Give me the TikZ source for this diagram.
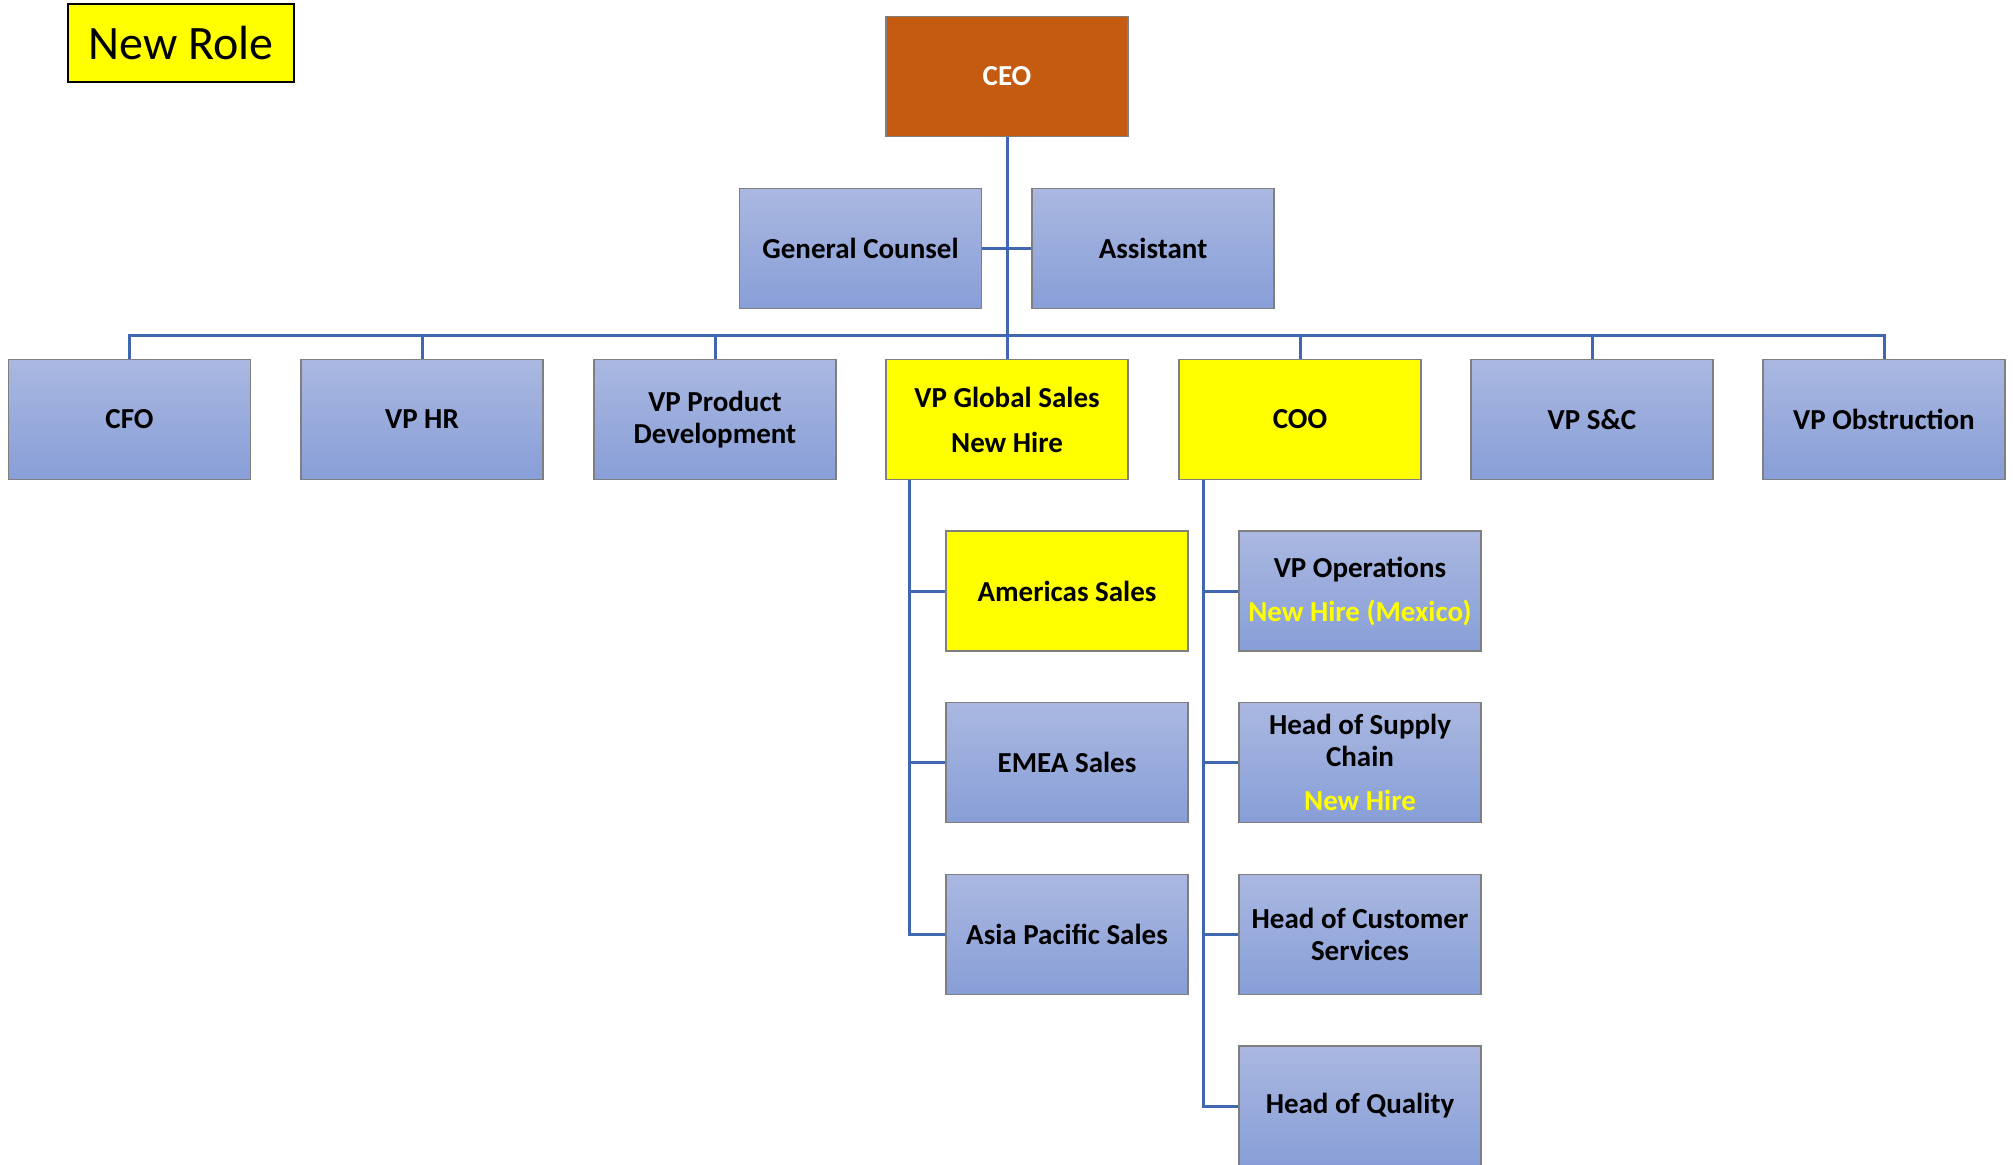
\documentclass[tikz,border=0pt]{standalone}
\usepackage{fontspec}
\setmainfont{Carlito}
\usepackage{xcolor}
\usetikzlibrary{positioning}
\definecolor{lnkx}{HTML}{4167B1}
\definecolor{ceox}{HTML}{C55A11}
\definecolor{bluetop}{HTML}{AAB8E1}
\definecolor{bluebot}{HTML}{889ED7}
\definecolor{edgex}{HTML}{7F7F7F}
\definecolor{hirex}{HTML}{FFFF00}
\tikzset{
  card/.style={draw=edgex,line width=0.6pt,minimum width=121pt,minimum height=60pt,align=center,inner sep=2pt,font=\bfseries\fontsize{14.5}{16}\selectfont},
  box/.style={card,top color=bluetop,bottom color=bluebot},
  newbox/.style={card,fill=hirex},
  ceobox/.style={card,fill=ceox,text=white},
  keybox/.style={draw=black,line width=1.4pt,fill=hirex,minimum width=113pt,minimum height=39pt,font=\fontsize{24}{28}\selectfont},
  lnk/.style={draw=lnkx,line width=1.5pt}
}
\begin{document}
\begin{tikzpicture}[x=0.5pt,y=-0.5pt]
\useasboundingbox (0,0) rectangle (2013,1164);
\fill[white] (0,0) rectangle (2013,1164);
\clip (0,0) rectangle (2013,1164);
% legend
\node[keybox] (key) at (181,43) {New Role};
% top
\node[ceobox] (ceo) at (1007,76.5) {CEO};
\node[box] (gc) at (860.5,248.5) {General Counsel};
\node[box] (asst) at (1153,248.5) {Assistant};
\coordinate (bus) at (1007,335);
% direct reports
\node[box] (cfo) at (129.5,419.5) {CFO};
\node[box] (vphr) at (422,419.5) {VP HR};
\node[box] (vppd) at (715,419.5) {VP Product\\Development};
\node[newbox] (vpgs) at (1007,419.5) {VP Global Sales\\[6.5pt]New Hire};
\node[newbox] (coo) at (1300,419.5) {COO};
\node[box] (vpsc) at (1592,419.5) {VP S\&C};
\node[box] (vpob) at (1884,419.5) {VP Obstruction};
% sales
\node[newbox] (amer) at (1067,591) {Americas Sales};
\node[box] (emea) at (1067,762.5) {EMEA Sales};
\node[box] (apac) at (1067,934.5) {Asia Pacific Sales};
% operations
\node[box] (vpop) at (1360,591) {VP Operations\\[6pt]\textcolor{hirex}{New Hire (Mexico)}};
\node[box] (supc) at (1360,762.5) {Head of Supply\\Chain\\[6pt]\textcolor{hirex}{New Hire}};
\node[box] (cust) at (1360,934.5) {Head of Customer\\Services};
\node[box] (qual) at (1360,1106) {Head of Quality};
% links
\draw[lnk] (ceo) -- (bus);
\draw[lnk] (gc) -- (asst);
\foreach \n in {cfo,vphr,vppd,vpgs,coo,vpsc,vpob}
  \draw[lnk] (bus) -| (\n.north);
\foreach \n in {amer,emea,apac}
  \draw[lnk] (vpgs.south west) ++(24,0) |- (\n.west);
\foreach \n in {vpop,supc,cust,qual}
  \draw[lnk] (coo.south west) ++(25,0) |- (\n.west);
\end{tikzpicture}
\end{document}
